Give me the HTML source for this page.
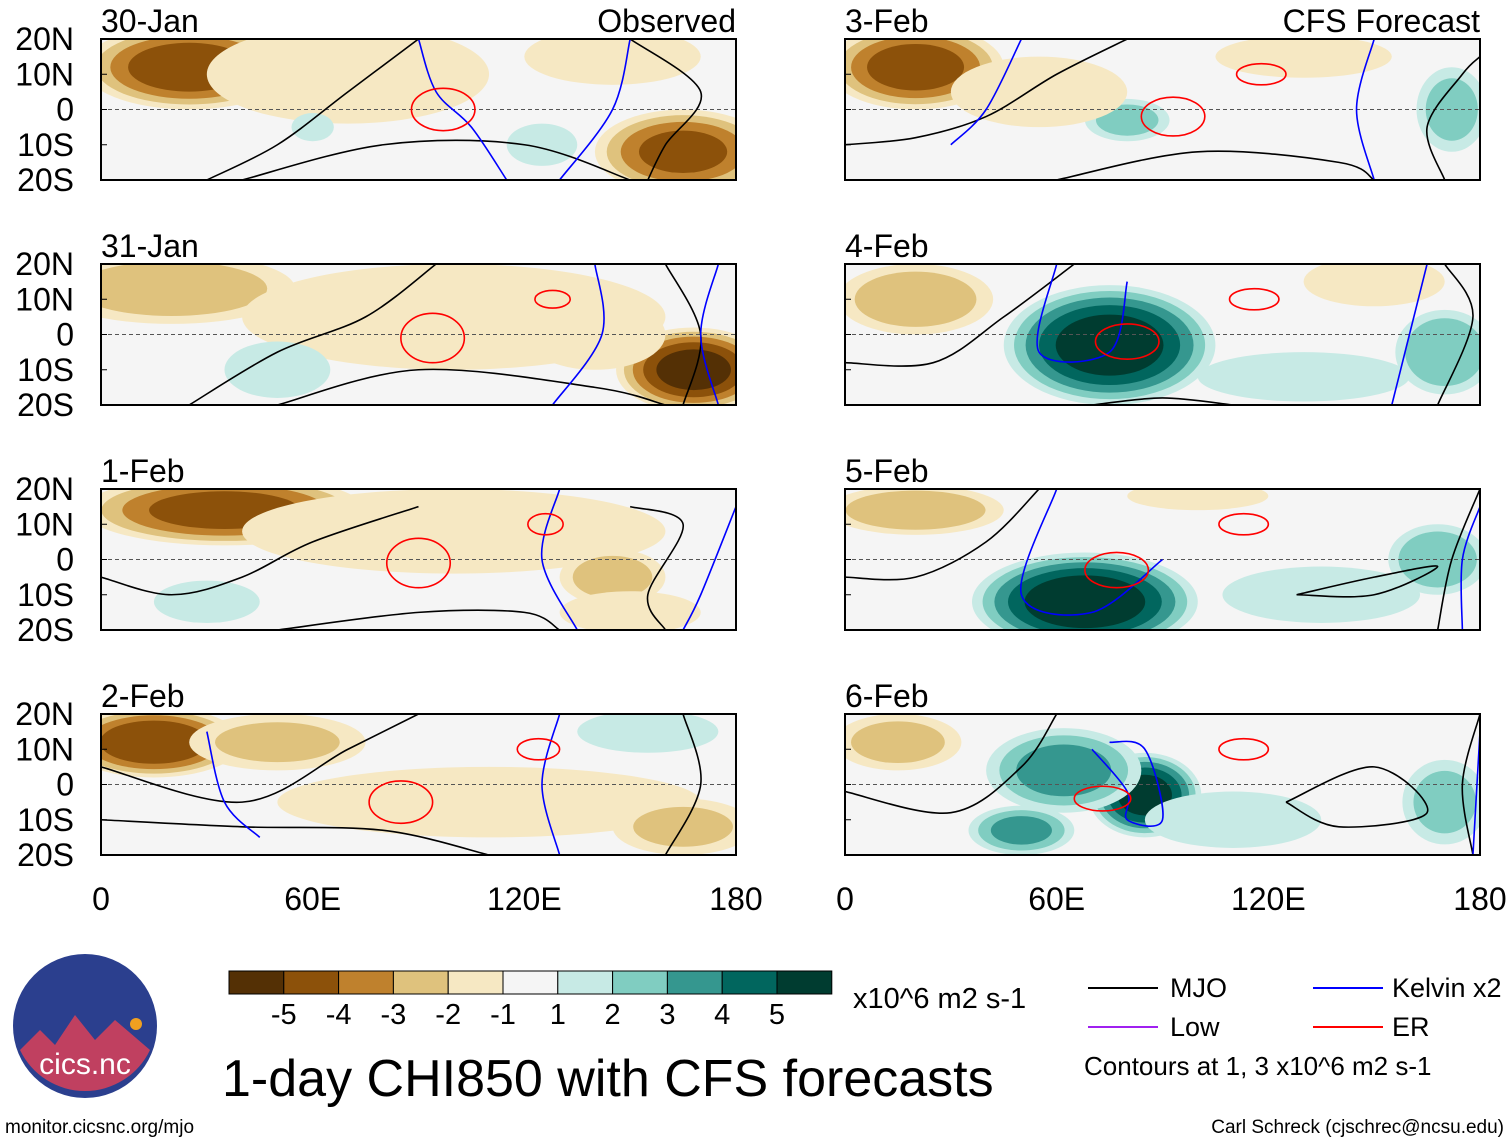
<!DOCTYPE html>
<html><head><meta charset="utf-8"><style>
body{margin:0;background:#fff;}
svg{display:block;font-family:"Liberation Sans",Arial,sans-serif;}
</style></head><body>
<svg id="fig" width="1510" height="1142" viewBox="0 0 1510 1142">
<g id="panels"></g>
<g id="colorbar"></g>
<g font-size="27">
 <line x1="1088" y1="988" x2="1158" y2="988" stroke="#000" stroke-width="2"/>
 <text x="1170" y="997">MJO</text>
 <line x1="1313" y1="988" x2="1383" y2="988" stroke="#0000ff" stroke-width="2"/>
 <text x="1392" y="997">Kelvin x2</text>
 <line x1="1088" y1="1027" x2="1158" y2="1027" stroke="#a020f0" stroke-width="2"/>
 <text x="1170" y="1036">Low</text>
 <line x1="1313" y1="1027" x2="1383" y2="1027" stroke="#ff0000" stroke-width="2"/>
 <text x="1392" y="1036">ER</text>
 <text x="1084" y="1075" font-size="26">Contours at 1, 3 x10^6 m2 s-1</text>
</g>
<text x="853" y="1008" font-size="29">x10^6 m2 s-1</text>
<text x="222" y="1096" font-size="52">1-day CHI850 with CFS forecasts</text>
<g>
 <circle cx="85" cy="1026" r="72" fill="#2b3f8e"/>
 <path d="M20 1050 L40 1030 L55 1045 L75 1015 L95 1040 L115 1020 L150 1050 A72 72 0 0 1 20 1050Z" fill="#c04060"/>
 <circle cx="136" cy="1024" r="6" fill="#f0a020"/>
 <text x="85" y="1074" font-size="30" fill="#fff" text-anchor="middle">cics.nc</text>
</g>
<text x="5" y="1133" font-size="19">monitor.cicsnc.org/mjo</text>
<text x="1504" y="1133" font-size="19" text-anchor="end">Carl Schreck (cjschrec@ncsu.edu)</text>
</svg>
<script>
// ---- data ----
const panelDates = ["30-Jan","31-Jan","1-Feb","2-Feb","3-Feb","4-Feb","5-Feb","6-Feb"];
const latTicks = ["20N","10N","0","10S","20S"];
const lonTicks = ["0","60E","120E","180"];
const levelValues = [-5,-4,-3,-2,-1,1,2,3,4,5];
const levelColors = ["#543005","#8c510a","#bf812d","#dfc27d","#f6e8c3","#f5f5f5","#c7eae5","#80cdc1","#35978f","#01665e","#003c30"];
// anomaly blobs per panel: [lon, lat, peak, lonRadius, latRadius]
const blobs = [
 [[25,12,-4.5,30,12],[70,10,-1.6,40,14],[165,-12,-4,25,12],[145,15,-1.8,25,8],[125,-10,1.6,10,6],[60,-5,1.3,6,4]],
 [[20,13,-2.5,35,10],[100,5,-1.4,60,15],[168,-10,-5.2,22,12],[50,-10,1.8,15,8],[140,0,-1.8,20,10]],
 [[35,14,-4.2,40,10],[100,8,-1.6,60,12],[145,-5,-2.3,15,8],[30,-12,1.6,15,6],[150,-15,-1.5,20,6]],
 [[15,12,-4.8,25,10],[50,12,-2,25,8],[110,-5,-1.6,60,10],[155,15,1.6,20,6],[165,-12,-2,20,8]],
 [[20,12,-4.3,25,12],[80,-3,2.2,12,6],[172,0,2.2,10,12],[55,5,-1.5,25,10],[130,15,-1.5,25,6]],
 [[75,-3,5.4,30,17],[20,10,-2.6,22,10],[150,15,-1.8,20,7],[170,-5,2.8,14,12],[130,-12,1.4,30,7]],
 [[68,-12,5.6,32,14],[20,14,-2.7,25,7],[168,0,2.7,14,10],[135,-10,1.6,28,8],[100,18,-1.4,20,4]],
 [[85,-3,5.2,16,12],[62,4,3.2,22,12],[50,-13,3,15,7],[170,-5,2.2,12,12],[110,-10,1.6,25,8],[15,12,-2.2,18,8]]
];
// ER (red) closed contours: [lon, lat, lonRadius, latRadius]
const erContours = [
 [[97,0,9,6]],[[94,-1,9,7],[128,10,5,2.5]],[[90,-1,9,7],[126,10,5,3]],[[85,-5,9,6],[124,10,6,3]],
 [[93,-2,9,5.5],[118,10,7,3]],[[80,-2,9,5],[116,10,7,3]],[[77,-3,9,5],[113,10,7,3]],[[73,-4,8,3.5],[113,10,7,3]]
];
// MJO (black) polylines [[lon,lat],...]
const mjoLines = [
 [[[30,-20],[50,-10],[70,5],[90,20]],[[40,-20],[80,-10],[120,-10],[150,-20]],[[150,20],[170,5],[160,-10],[155,-20]]],
 [[[25,-20],[50,-5],[75,5],[95,20]],[[50,-20],[90,-10],[140,-15],[160,-20]],[[160,20],[170,0],[165,-20]]],
 [[[0,-5],[20,-10],[40,-5],[60,5],[90,15]],[[50,-20],[90,-15],[120,-15],[130,-20]],[[150,15],[165,10],[155,-10],[160,-20]]],
 [[[0,5],[40,-5],[70,10],[90,20]],[[0,-10],[40,-12],[80,-13],[110,-20]],[[165,20],[170,0],[160,-20]]],
 [[[0,-10],[20,-8],[40,-2],[60,10],[80,20]],[[60,-20],[100,-12],[140,-15],[150,-20]],[[170,-20],[165,-5],[175,10],[180,15]]],
 [[[0,-8],[25,-8],[45,5],[65,20]],[[70,-20],[90,-18],[110,-20]],[[170,20],[178,5],[168,-20]]],
 [[[0,-5],[20,-5],[40,5],[55,20]],[[128,-10],[150,-5],[168,-2],[150,-10],[128,-10]],[[180,20],[172,0],[168,-20]]],
 [[[0,-2],[30,-8],[50,5],[60,20]],[[125,-5],[150,5],[165,-8],[140,-12],[125,-5]],[[180,20],[175,0],[178,-20]]]
];
// Kelvin (blue) polylines
const kelvinLines = [
 [[[90,20],[95,5],[105,-5],[115,-20]],[[150,20],[145,0],[130,-20]]],
 [[[140,20],[142,0],[128,-20]],[[175,20],[170,0],[175,-20]]],
 [[[130,20],[125,0],[135,-20]],[[180,15],[170,-10],[165,-20]]],
 [[[30,15],[35,-5],[45,-15]],[[130,20],[125,0],[130,-20]]],
 [[[50,20],[40,0],[30,-10]],[[150,20],[145,0],[150,-20]]],
 [[[60,20],[55,-5],[75,-5],[80,15]],[[165,20],[160,0],[155,-20]]],
 [[[60,20],[50,-10],[70,-15],[90,0]],[[180,15],[175,0],[175,-20]]],
 [[[70,10],[80,-2],[80,-10],[90,-10],[85,10],[75,12]],[[180,15],[178,-20]]]
];
// ---- layout ----
const NS="http://www.w3.org/2000/svg";
const cols=[101,845], rows=[39,264,489,714], PW=635, PH=141;
function mk(tag,attrs,parent){const e=document.createElementNS(NS,tag);for(const k in attrs)e.setAttribute(k,attrs[k]);parent.appendChild(e);return e;}
function xScale(x0,lon){return x0+lon/180*PW;}
function yScale(y0,lat){return y0+(20-lat)/40*PH;}
function smooth(p){ // catmull-rom to bezier
 let d='M'+p[0][0]+','+p[0][1];
 for(let i=0;i<p.length-1;i++){
  const a=p[Math.max(i-1,0)],b=p[i],c=p[i+1],e=p[Math.min(i+2,p.length-1)];
  const c1=[b[0]+(c[0]-a[0])/6,b[1]+(c[1]-a[1])/6],c2=[c[0]-(e[0]-b[0])/6,c[1]-(e[1]-b[1])/6];
  d+=' C'+c1.join(',')+' '+c2.join(',')+' '+c.join(',');
 }
 return d;
}
const root=document.getElementById('panels');
panelDates.forEach((d,i)=>{
 const x0=cols[i<4?0:1], y0=rows[i%4];
 const g=mk('g',{},root);
 
 
 const clip=mk('clipPath',{id:'c'+i},g);
 mk('rect',{x:x0,y:y0,width:PW,height:PH},clip);
 mk('rect',{x:x0,y:y0,width:PW,height:PH,fill:'#f5f5f5'},g);
 const fills=mk('g',{'clip-path':'url(#c'+i+')'},g);
 blobs[i].forEach(b=>{
  const [lon,lat,v,rx,ry]=b, av=Math.abs(v), sg=Math.sign(v);
  for(let L=1;L<=Math.floor(av);L++){
   const f=Math.sqrt(1-(L-1)/av);
   const e=mk('ellipse',{cx:xScale(x0,lon),cy:yScale(y0,lat),rx:rx*f/180*PW,ry:ry*f/40*PH,fill:levelColors[5+sg*L]},fills);
   
   
  }
 });
 mk('line',{x1:x0,x2:x0+PW,y1:yScale(y0,0),y2:yScale(y0,0),stroke:'#555','stroke-dasharray':'4,3','stroke-width':1},fills);
 const ln=(pts,col)=>mk('path',{d:smooth(pts.map(q=>[xScale(x0,q[0]),yScale(y0,q[1])])),fill:'none',stroke:col,'stroke-width':1.6},fills);
 mjoLines[i].forEach(p=>{const e=ln(p,'#000');});
 kelvinLines[i].forEach(p=>{const e=ln(p,'#0000ff');});
 erContours[i].forEach(c=>{
  const e=mk('ellipse',{cx:xScale(x0,c[0]),cy:yScale(y0,c[1]),rx:c[2]/180*PW,ry:c[3]/40*PH,fill:'none',stroke:'#ff0000','stroke-width':1.6},fills);
  
  
 });
 mk('rect',{x:x0,y:y0,width:PW,height:PH,fill:'none',stroke:'#000','stroke-width':2},g);
 const t=mk('text',{x:x0,y:y0-7,'font-size':32},g);t.textContent=d;
 
 
 if(i===0){const o=mk('text',{x:x0+PW,y:y0-7,'font-size':32,'text-anchor':'end'},g);o.textContent='Observed';
  }
 if(i===4){const o=mk('text',{x:x0+PW,y:y0-7,'font-size':32,'text-anchor':'end'},g);o.textContent='CFS Forecast';
  }
 latTicks.forEach((s,k)=>{const yy=y0+k*PH/4;
  if(i<4){const tt=mk('text',{x:x0-27,y:yy+11,'font-size':32,'text-anchor':'end'},g);tt.textContent=s;
   }
  mk('line',{x1:x0,x2:x0+6,y1:yy,y2:yy,stroke:'#000'},g);});
 if(i%4===3){lonTicks.forEach((s,k)=>{const tt=mk('text',{x:x0+k*PW/3,y:y0+PH+55,'font-size':32,'text-anchor':'middle'},g);tt.textContent=s;
  });}
});
// colorbar
const cb=document.getElementById('colorbar');
const cbx=229,cby=971,bw=54.8,bh=23;
levelColors.forEach((c,k)=>{const r=mk('rect',{x:cbx+k*bw,y:cby,width:bw,height:bh,fill:c,stroke:'#000','stroke-width':1},cb);
 });
levelValues.forEach((v,k)=>{const t=mk('text',{x:cbx+(k+1)*bw,y:cby+bh+30,'font-size':29,'text-anchor':'middle'},cb);t.textContent=v;
 });
</script>
</body></html>
